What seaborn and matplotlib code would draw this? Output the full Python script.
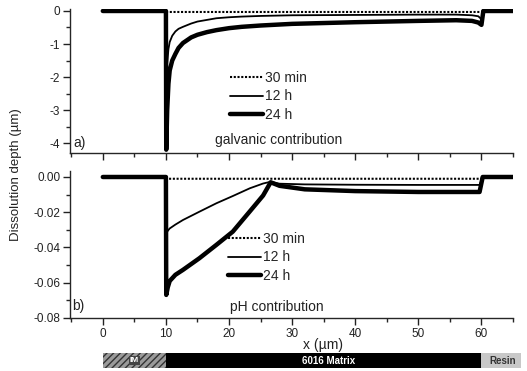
import numpy as np
import pandas as pd
import matplotlib
matplotlib.use("Agg")
import matplotlib.pyplot as plt
import seaborn as sns
from matplotlib.ticker import MultipleLocator

# ---------------- data ----------------
labels = ["30 min", "12 h", "24 h"]

# a) galvanic contribution
x_gal = [0, 10, 10.05, 10.2, 10.4, 10.6, 11, 11.5, 12, 12.7, 14, 15, 16.5, 18, 20, 22, 25, 30,
         40, 50, 56, 58.5, 59.5, 60, 60.3, 65]
gal_24h = [0, 0, -4.2, -3.0, -2.2, -1.8, -1.5, -1.3, -1.12, -0.97, -0.80, -0.72, -0.64, -0.58, -0.52,
           -0.48, -0.44, -0.39, -0.34, -0.30, -0.28, -0.30, -0.35, -0.42, 0, 0]
gal_12h = [0, 0, -2.5, -1.6, -1.15, -0.94, -0.75, -0.62, -0.54, -0.48, -0.38, -0.32, -0.27, -0.22, -0.19,
           -0.17, -0.15, -0.13, -0.12, -0.11, -0.11, -0.13, -0.16, -0.25, 0, 0]
x_gal30 = [0, 10, 10.1, 60, 60.2, 65]
gal_30m = [0, 0, -0.03, -0.03, 0, 0]

# b) pH contribution
x_ph = [0, 10, 10.05, 10.3, 10.6, 11.5, 12.7, 15.3, 18.0, 20.6, 23.3, 25.4, 26.6, 28, 32, 40, 50,
        59.7, 60.2, 65]
ph_24h = [0, 0, -0.0669, -0.0625, -0.0590, -0.0555, -0.0527, -0.0461, -0.0385, -0.0310, -0.0195,
          -0.0105, -0.0030, -0.0050, -0.0070, -0.0080, -0.0085, -0.0085, 0, 0]
ph_12h = [0, 0, -0.0319, -0.0305, -0.0292, -0.0270, -0.0244, -0.0197, -0.0149, -0.0108, -0.0064,
          -0.0037, -0.0027, -0.0038, -0.0042, -0.0044, -0.0045, -0.0045, 0, 0]
x_ph30 = [0, 10, 10.1, 60, 60.2, 65]
ph_30m = [0, 0, -0.001, -0.001, 0, 0]

# material bar
bar_names = ["IM", "6016 Matrix", "Resin"]
bar_start = [0, 10, 60]
bar_end = [10, 60, 66.3]

# ---------------- style ----------------
sns.set_theme(style="ticks")
plt.rcParams["font.family"] = ["Liberation Sans", "DejaVu Sans"]
plt.rcParams["axes.linewidth"] = 1.0

W, H = 527, 371
fig = plt.figure(figsize=(W / 100, H / 100), dpi=100)

def fx(px):
    return px / W

def fy(py):
    return 1 - py / H

XL = (-5.2, 65)
ax1 = fig.add_axes([fx(70), fy(153), fx(513) - fx(70), fy(9) - fy(153)])
ax2 = fig.add_axes([fx(70), fy(318), fx(513) - fx(70), fy(171) - fy(318)])
ax3 = fig.add_axes([fx(70), fy(368), fx(513) - fx(70), fy(353) - fy(368)])

styles = {"30 min": dict(lw=1.5, ls=(0, (1, 0.8))),
          "12 h": dict(lw=1.3, ls="-"),
          "24 h": dict(lw=3.2, ls="-")}

def draw(ax, xs_list, ys_list):
    for lab, xs, ys in zip(labels, xs_list, ys_list):
        sns.lineplot(x=xs, y=ys, ax=ax, color="black", linewidth=styles[lab]["lw"],
                     linestyle=styles[lab]["ls"], label=lab, estimator=None, sort=False)

draw(ax1, [x_gal30, x_gal, x_gal], [gal_30m, gal_12h, gal_24h])
draw(ax2, [x_ph30, x_ph, x_ph], [ph_30m, ph_12h, ph_24h])

for ax in (ax1, ax2):
    ax.set_xlim(*XL)
    sns.despine(ax=ax)
    ax.xaxis.set_major_locator(MultipleLocator(10))
    ax.xaxis.set_minor_locator(MultipleLocator(5))
    ax.tick_params(axis="both", which="major", length=5, width=1, labelsize=8.5, colors="#222222", pad=2)
    ax.tick_params(axis="both", which="minor", length=3, width=1)
    ax.set_xlabel("")
    ax.set_ylabel("")
    ax.patch.set_alpha(0)

ax1.set_ylim(-4.3, 0.06)
ax1.yaxis.set_minor_locator(MultipleLocator(0.5))
ax1.set_yticks([0, -1, -2, -3, -4])
ax1.set_yticklabels(["0", "-1", "-2", "-3", "-4"])
ax1.tick_params(axis="x", labelbottom=False)

ax2.set_ylim(-0.08, 0.0034)
ax2.set_yticks([0, -0.02, -0.04, -0.06, -0.08])
ax2.set_yticklabels(["0.00", "-0.02", "-0.04", "-0.06", "-0.08"])
ax2.yaxis.set_minor_locator(MultipleLocator(0.01))
ax2.set_xticks([0, 10, 20, 30, 40, 50, 60])

# legends
leg_kw = dict(frameon=False, fontsize=10, handlelength=2.4, handletextpad=0.15,
              labelspacing=0.32, borderpad=0, borderaxespad=0)
ax1.legend(loc="upper left", bbox_to_anchor=(fx(230), fy(71)), bbox_transform=fig.transFigure, **leg_kw)
ax2.legend(loc="upper left", bbox_to_anchor=(fx(228), fy(232)), bbox_transform=fig.transFigure, **leg_kw)

# annotations
fig.text(fx(73), fy(143), "a)", fontsize=10, va="center", ha="left", color="#222222")
fig.text(fx(215), fy(140), "galvanic contribution", fontsize=10, va="center", ha="left", color="#222222")
fig.text(fx(72), fy(306), "b)", fontsize=10, va="center", ha="left", color="#222222")
fig.text(fx(230), fy(307), "pH contribution", fontsize=10, va="center", ha="left", color="#222222")
fig.text(fx(323), fy(345), "x (\u00b5m)", fontsize=10, va="center", ha="center", color="#222222")
fig.text(fx(16), fy(175), "Dissolution depth (\u00b5m)", fontsize=9.5, rotation=90,
         va="center", ha="center", color="#222222")

# material bar
bar_df = pd.DataFrame({"name": bar_names, "start": bar_start, "end": bar_end})
bar_df["width"] = bar_df["end"] - bar_df["start"]
faces = ["#9a9a9a", "black", "#c8c8c8"]
hatches = ["/////", None, None]
for i, row in bar_df.iterrows():
    ax3.barh(0, row["width"], left=row["start"], height=1.0, color=faces[i],
             hatch=hatches[i], edgecolor="#333333" if hatches[i] else faces[i],
             linewidth=0, clip_on=False)
ax3.set_xlim(*XL)
ax3.set_ylim(-0.5, 0.5)
ax3.axis("off")
ax3.text(5, 0, "IM", color="white", fontsize=6, fontweight="bold", ha="center", va="center",
         bbox=dict(boxstyle="square,pad=0.1", fc="#444444", ec="none"))
ax3.text(35.8, 0, "6016 Matrix", color="white", fontsize=7, fontweight="bold", ha="center", va="center")
ax3.text(63.3, 0, "Resin", color="#333333", fontsize=7, fontweight="bold", ha="center", va="center",
         clip_on=False)

fig.savefig("out.png", dpi=100)
